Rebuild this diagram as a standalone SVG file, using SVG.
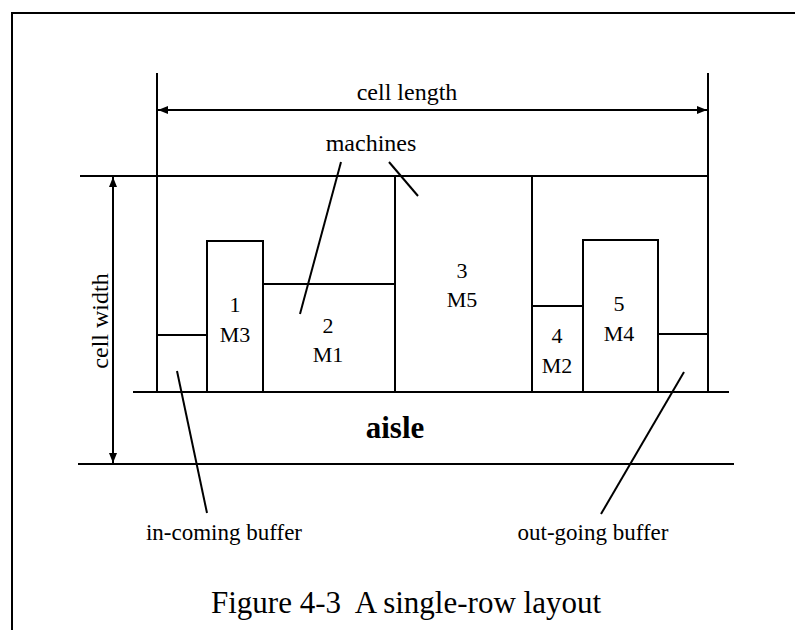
<svg xmlns="http://www.w3.org/2000/svg" width="795" height="630" viewBox="0 0 795 630">
<style>
.ln{stroke:#000;stroke-width:2;fill:none}
.box{stroke:#000;stroke-width:2;fill:#fff}
.t{font-family:"Liberation Serif","Times New Roman",serif;fill:#000}
.m{font-size:22px;text-anchor:middle}
.lbl{font-size:24px}
.buf{font-size:23px}
</style>
<defs>
<marker id="ah" viewBox="0 0 10 8" refX="10" refY="4" markerWidth="10" markerHeight="8" markerUnits="userSpaceOnUse" orient="auto-start-reverse">
<path d="M0,0 L10,4 L0,8 z" fill="#000"/>
</marker>
</defs>
<rect width="795" height="630" fill="#fff"/>
<g id="frame">
<path class="ln" d="M12,630 V13 H795"/>
</g>
<g id="cell">
<line class="ln" x1="157" y1="73" x2="157" y2="392"/>
<line class="ln" x1="708" y1="73" x2="708" y2="392"/>
<line class="ln" x1="80" y1="176" x2="708" y2="176"/>
<line class="ln" x1="133" y1="392" x2="729" y2="392"/>
<line class="ln" x1="78" y1="464" x2="734" y2="464"/>
</g>
<g id="in-buffer"><rect class="box" x="157" y="335" width="50" height="57"/></g>
<g id="machine-1"><rect class="box" x="207" y="241" width="56" height="151"/>
<text class="t m" x="235" y="312">1</text><text class="t m" x="235" y="342">M3</text></g>
<g id="machine-2"><rect class="box" x="263" y="284" width="132" height="108"/>
<text class="t m" x="328" y="333">2</text><text class="t m" x="328" y="362">M1</text></g>
<g id="machine-3"><rect class="box" x="395" y="176" width="137" height="216"/>
<text class="t m" x="462" y="278">3</text><text class="t m" x="462" y="307">M5</text></g>
<g id="machine-4"><rect class="box" x="532" y="306" width="51" height="86"/>
<text class="t m" x="557" y="343">4</text><text class="t m" x="557" y="373">M2</text></g>
<g id="machine-5"><rect class="box" x="583" y="240" width="75" height="152"/>
<text class="t m" x="619" y="311">5</text><text class="t m" x="619" y="341">M4</text></g>
<g id="out-buffer"><rect class="box" x="658" y="334" width="50" height="58"/></g>
<g id="connectors">
<line class="ln" x1="158" y1="110" x2="707" y2="110" marker-start="url(#ah)" marker-end="url(#ah)"/>
<line class="ln" x1="113" y1="177" x2="113" y2="463" marker-start="url(#ah)" marker-end="url(#ah)"/>
<line class="ln" stroke-width="1.5" x1="341" y1="162" x2="300" y2="314"/>
<line class="ln" stroke-width="1.5" x1="389" y1="162" x2="418" y2="196"/>
<line class="ln" stroke-width="1.5" x1="177" y1="371" x2="207" y2="513"/>
<line class="ln" stroke-width="1.5" x1="684" y1="372" x2="601" y2="514"/>
</g>
<g id="labels">
<text class="t lbl" x="407" y="100" text-anchor="middle">cell length</text>
<text class="t lbl" x="371" y="151" text-anchor="middle">machines</text>
<text class="t lbl" transform="translate(108,321) rotate(-90)" text-anchor="middle">cell width</text>
<text class="t" x="395" y="438" font-size="31" font-weight="bold" text-anchor="middle">aisle</text>
<text class="t buf" x="224" y="540" text-anchor="middle">in-coming buffer</text>
<text class="t buf" x="593" y="540" text-anchor="middle">out-going buffer</text>
<text class="t" x="406" y="613" font-size="31" text-anchor="middle" xml:space="preserve">Figure 4-3  A single-row layout</text>
</g>
</svg>
